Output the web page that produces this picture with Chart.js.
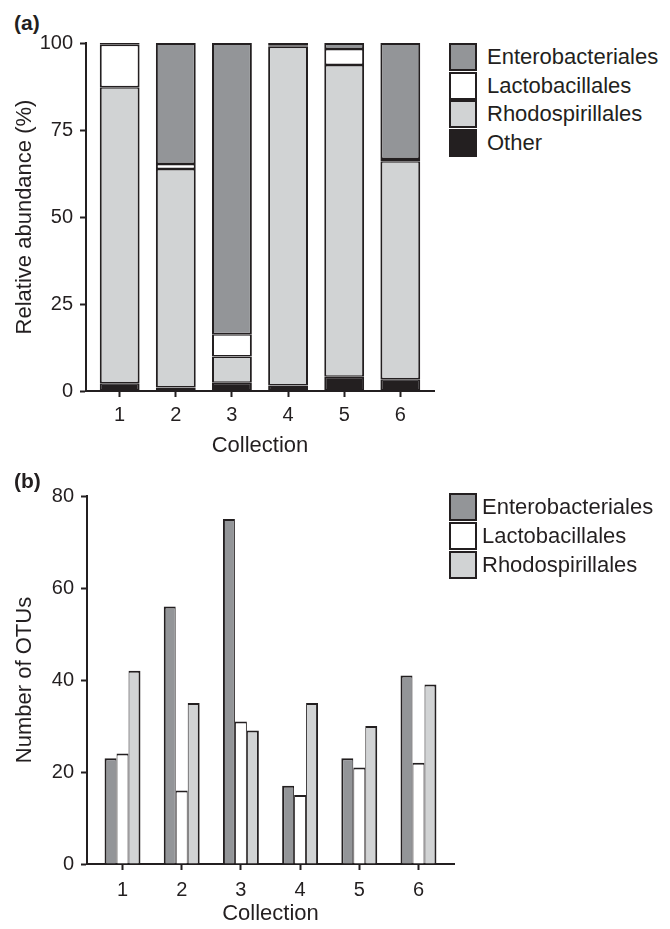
<!DOCTYPE html>
<html>
<head>
<meta charset="utf-8">
<script src="https://cdn.jsdelivr.net/npm/chart.js@4.4.1/dist/chart.umd.min.js"></script>
<style>
  body { margin: 0; background: #fff; font-family: "Liberation Sans", Arial, sans-serif; color: #231f20; }
  #page { position: relative; width: 670px; height: 929px; }
  .panel { position: absolute; }
  .tag { position: absolute; font-weight: bold; font-size: 21px; line-height: 21px; }
  .legend { position: absolute; font-size: 22px; }
  .legend .row { display: flex; align-items: center; }
  .legend .box { width: 28px; height: 28px; box-sizing: border-box; border: 2px solid #231f20; }
</style>
</head>
<body>
<div id="page">
  <div class="tag" style="left:14px;top:12px">(a)</div>
  <div class="panel" style="left:0;top:0;width:440px;height:470px"><canvas id="abundance"></canvas></div>
  <div class="legend" id="legend-a" style="left:449px;top:43px"></div>

  <div class="tag" style="left:14px;top:470px">(b)</div>
  <div class="panel" style="left:0;top:460px;width:460px;height:469px"><canvas id="otus"></canvas></div>
  <div class="legend" id="legend-b" style="left:449px;top:492px"></div>
</div>

<script>
const collections = [1, 2, 3, 4, 5, 6];

// (a) relative abundance (%), bottom to top of each stack
const otherPct  = [2.2, 1.0, 2.4, 1.6, 4.1, 3.4];
const rhodoPct  = [85.1, 62.8, 7.5, 97.3, 89.6, 62.6];
const lactoPct  = [12.2, 1.4, 6.4, 0.3, 4.6, 0.7];
const enteroPct = [0.5, 34.8, 83.7, 0.8, 1.7, 33.3];
const pctTicks  = [0, 25, 50, 75, 100];

// (b) number of OTUs
const enteroOtus = [23, 56, 75, 17, 23, 41];
const lactoOtus  = [24, 16, 31, 15, 21, 22];
const rhodoOtus  = [42, 35, 29, 35, 30, 39];
const otuTicks   = [0, 20, 40, 60, 80];

const ink = '#231f20';
const fills = {
  Enterobacteriales: '#939598',
  Lactobacillales: '#ffffff',
  Rhodospirillales: '#d1d3d4',
  Other: '#231f20'
};

Chart.defaults.font.family = '"Liberation Sans", Arial, sans-serif';
Chart.defaults.color = ink;

function xAxis(tickPad, titlePad, height, stacked) {
  return {
    type: 'linear',
    min: 0.4,
    max: 6.6,
    bounds: 'data',
    offset: false,
    stacked: stacked,
    afterBuildTicks: s => { s.ticks = collections.map(v => ({ value: v })); },
    afterFit: s => { s.height = height; },
    grid: { offset: false, drawOnChartArea: false, tickLength: 6, tickWidth: 2, tickColor: ink },
    border: { color: ink, width: 2 },
    ticks: { color: ink, padding: tickPad, font: { size: 20 } },
    title: { display: true, text: 'Collection', color: ink, font: { size: 22 }, padding: { top: 0, bottom: titlePad } }
  };
}

function yAxis(ticksList, title, width, stacked) {
  return {
    min: ticksList[0],
    max: ticksList[ticksList.length - 1],
    stacked: stacked,
    afterBuildTicks: s => { s.ticks = ticksList.map(v => ({ value: v })); },
    afterFit: s => { s.width = width; },
    grid: { drawOnChartArea: false, tickLength: 6, tickWidth: 2, tickColor: ink },
    border: { color: ink, width: 2 },
    ticks: { color: ink, padding: 7, font: { size: 20 } },
    title: { display: true, text: title, color: ink, font: { size: 22 }, padding: { top: 12, bottom: 0 } }
  };
}

// panel (a): stacked
const stackA = [
  ['Other', otherPct],
  ['Rhodospirillales', rhodoPct],
  ['Lactobacillales', lactoPct],
  ['Enterobacteriales', enteroPct]
];

new Chart(document.getElementById('abundance'), {
  type: 'bar',
  data: {
    labels: collections,
    datasets: stackA.map(([name, vals]) => ({
      label: name,
      data: vals,
      backgroundColor: fills[name],
      borderColor: ink,
      borderWidth: { left: 2, right: 2, top: name === 'Enterobacteriales' ? 2 : 1.5, bottom: 1.5 },
      borderSkipped: false,
      categoryPercentage: 0.71,
      barPercentage: 1
    }))
  },
  options: {
    responsive: true,
    maintainAspectRatio: false,
    animation: false,
    layout: { padding: { top: 43, right: 6, left: 0, bottom: 0 } },
    plugins: { legend: { display: false }, tooltip: { enabled: false } },
    scales: {
      x: xAxis(6, 11, 79, true),
      y: yAxis(pctTicks, 'Relative abundance (%)', 86, true)
    }
  }
});

// panel (b): grouped
const groupB = [
  ['Enterobacteriales', enteroOtus, { left: 2, right: 1, top: 2, bottom: 0 }],
  ['Lactobacillales', lactoOtus, { left: 1, right: 1, top: 2, bottom: 0 }],
  ['Rhodospirillales', rhodoOtus, { left: 1, right: 2, top: 2, bottom: 0 }]
];

new Chart(document.getElementById('otus'), {
  type: 'bar',
  data: {
    labels: collections,
    datasets: groupB.map(([name, vals, bw]) => ({
      label: name,
      data: vals,
      backgroundColor: fills[name],
      borderColor: ink,
      borderWidth: bw,
      borderSkipped: false,
      categoryPercentage: 0.607,
      barPercentage: 1
    }))
  },
  options: {
    responsive: true,
    maintainAspectRatio: false,
    animation: false,
    layout: { padding: { top: 36, right: 6, left: 0, bottom: 0 } },
    plugins: { legend: { display: false }, tooltip: { enabled: false } },
    scales: {
      x: xAxis(8, 2, 65, false),
      y: yAxis(otuTicks, 'Number of OTUs', 87, false)
    }
  }
});

// legends
function buildLegend(id, names, rowHeight, gap) {
  const el = document.getElementById(id);
  names.forEach(name => {
    const row = document.createElement('div');
    row.className = 'row';
    row.style.height = rowHeight + 'px';
    const box = document.createElement('div');
    box.className = 'box';
    box.style.background = fills[name];
    const txt = document.createElement('span');
    txt.textContent = name;
    txt.style.marginLeft = gap + 'px';
    row.appendChild(box);
    row.appendChild(txt);
    el.appendChild(row);
  });
}
buildLegend('legend-a', ['Enterobacteriales', 'Lactobacillales', 'Rhodospirillales', 'Other'], 28.5, 10);
buildLegend('legend-b', ['Enterobacteriales', 'Lactobacillales', 'Rhodospirillales'], 29, 5);
</script>
</body>
</html>
